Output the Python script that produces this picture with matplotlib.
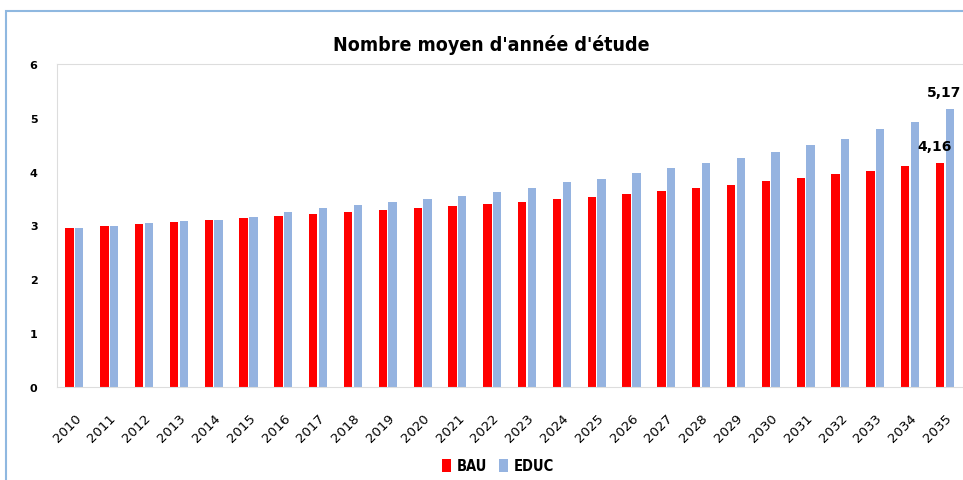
import numpy as np
import matplotlib.pyplot as plt
from matplotlib.patches import Rectangle

years = [str(y) for y in range(2010, 2036)]
bau = [2.96, 2.99, 3.03, 3.07, 3.10, 3.14, 3.18, 3.21, 3.25, 3.29, 3.32, 3.36, 3.40,
       3.44, 3.49, 3.53, 3.59, 3.65, 3.70, 3.76, 3.82, 3.88, 3.95, 4.01, 4.10, 4.16]
educ = [2.96, 3.00, 3.05, 3.08, 3.11, 3.15, 3.25, 3.32, 3.38, 3.43, 3.49, 3.55, 3.63,
        3.70, 3.80, 3.87, 3.97, 4.06, 4.16, 4.26, 4.37, 4.49, 4.60, 4.79, 4.93, 5.17]

red = '#ff0000'
blue = '#95b3e0'
narrow = {'family': 'DejaVu Sans', 'stretch': 'condensed', 'weight': 'bold'}

fig = plt.figure(figsize=(9.63, 4.81), dpi=100)
fig.patches.append(Rectangle((6 / 963, -0.1), 1.1, 1 - 12 / 481 + 0.1, transform=fig.transFigure,
                             facecolor='white', edgecolor='#8fb8e0', linewidth=1.5, zorder=-5))
ax = fig.add_axes([57 / 963, 1 - 388 / 481, 906 / 963, 323 / 481])
ax.set_zorder(2)

x = np.arange(len(years))
w = 0.24
ax.bar(x - 0.14, bau, w, color=red, label='BAU')
ax.bar(x + 0.14, educ, w, color=blue, label='EDUC')

ax.set_xlim(-0.5, len(years) - 0.48)
ax.set_ylim(0, 6)
ax.set_yticks(range(7))
ax.set_yticklabels([str(i) for i in range(7)], fontsize=8, fontweight='bold')
ax.set_xticks(x)
ax.set_xticklabels(years, rotation=45, fontsize=9.5, ha='right', rotation_mode='anchor')
ax.tick_params(length=0)
ax.tick_params(axis='y', pad=14)
ax.tick_params(axis='x', pad=17)
for s in ax.spines.values():
    s.set_color('#dddddd')
    s.set_linewidth(0.8)
ax.spines['right'].set_visible(False)

ax.text(x[-1] - 0.3, bau[-1] + 0.18, '4,16', ha='center', va='bottom', fontsize=10, fontweight='bold')
ax.text(x[-1] - 0.02, educ[-1] + 0.18, '5,17', ha='center', va='bottom', fontsize=10, fontweight='bold')

fig.text(0.51, 1 - 45 / 481, "Nombre moyen d'année d'étude", ha='center', va='center',
         fontsize=14, **narrow)

fig.legend(loc='center', bbox_to_anchor=(0.517, 1 - 467 / 481), ncol=2, frameon=False,
           handlelength=0.6, handleheight=0.9, handletextpad=0.4, columnspacing=0.8,
           prop={'family': 'DejaVu Sans', 'stretch': 'condensed', 'weight': 'bold', 'size': 10.5})

fig.savefig('out.png', dpi=100)
